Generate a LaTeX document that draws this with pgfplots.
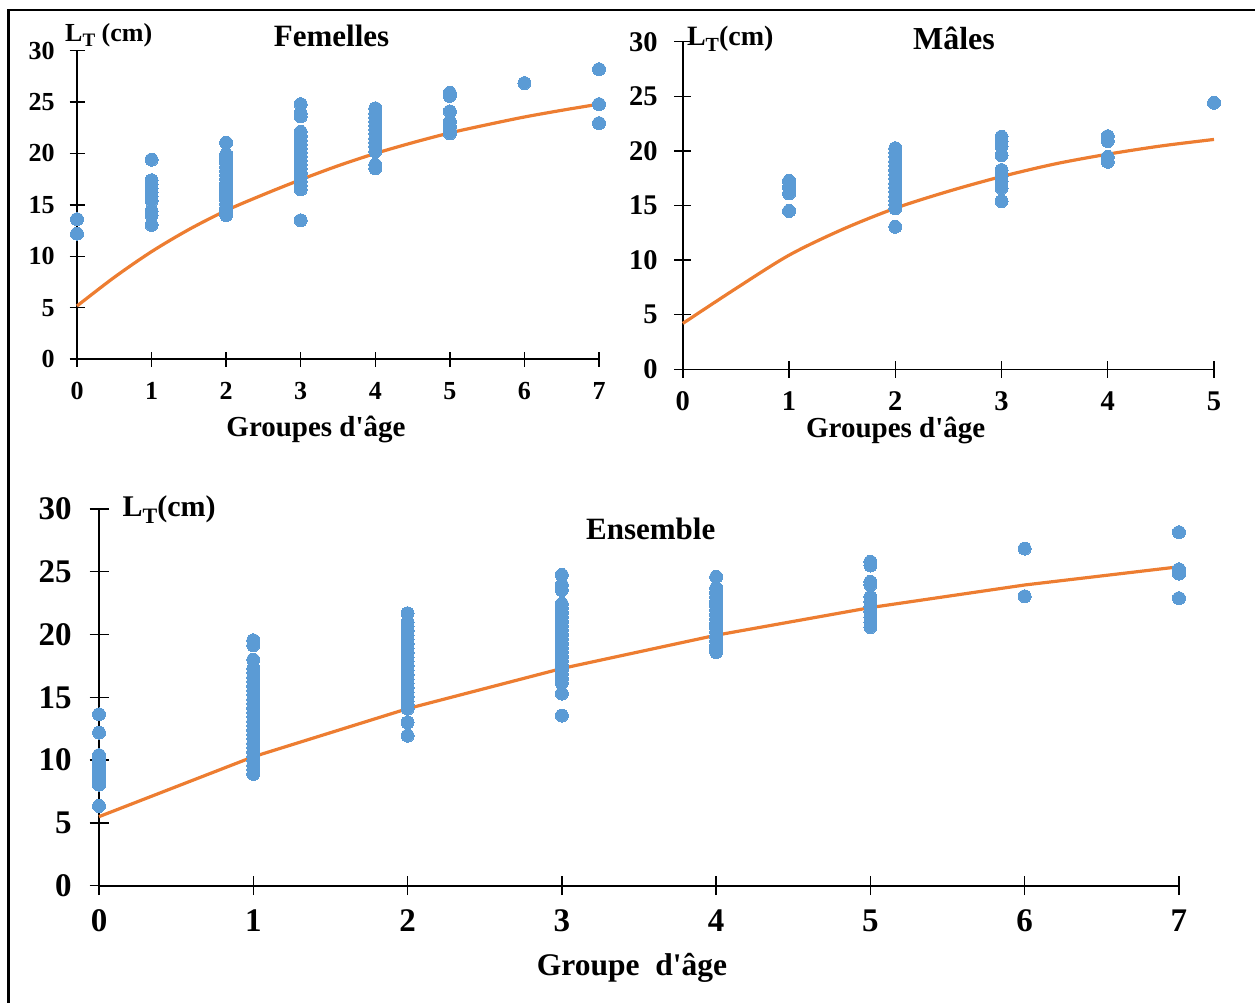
\documentclass[border=0pt]{standalone}
\usepackage{fontspec}
\setmainfont{Liberation Serif}[Ligatures=TeXOff]
\usepackage{pgfplots}
\pgfplotsset{compat=1.18}
\definecolor{dotblue}{HTML}{5B9BD5}
\definecolor{lineor}{HTML}{ED7D31}
\pgfplotsset{
  mystyle/.style={
    scale only axis, anchor=south west,
    axis x line=bottom, axis y line=left,
    axis line style={-, line width=1.6pt, black},
    xmin=0, ymin=0, ymax=30, clip=false,
    tick align=center,
    major tick style={line width=1.4pt, black},
    ytick={0,5,...,30},
    /pgf/number format/assume math mode=true,
  },
  dots/.style={only marks, color=dotblue, mark=*, mark size=6.5pt, mark options={draw=dotblue, fill=dotblue, line width=0pt}},
  fit/.style={lineor, line width=3.2pt, no marks},
}
\begin{document}
\begin{tikzpicture}
\useasboundingbox (0pt,0pt) rectangle (1255pt,-1002pt);
\draw[line width=2.5pt] (8.7pt,-1020pt) -- (8.7pt,-10pt) -- (1270pt,-10pt);

% ---------------- Femelles ----------------
\begin{axis}[mystyle, at={(77pt,-359pt)}, width=522pt, height=308.3pt,
  xmax=7, xtick={0,...,7}, major tick length=15pt,
  ticklabel style={font=\fontsize{26}{26}\selectfont\bfseries},
  yticklabel style={anchor=east, inner sep=0pt, xshift=-14.7pt},
  xticklabel style={anchor=base, inner sep=0pt, yshift=-33pt}]
\addplot[dots] coordinates {
(0,13.6)(0,12.2)
(1,19.4)(1,17.4)(1,17.0)(1,16.6)(1,16.2)(1,15.8)(1,15.4)(1,14.4)(1,14.0)(1,13.05)
(2,21.05)(2,19.9)(2,19.5)(2,19.1)(2,18.7)(2,18.3)(2,17.9)(2,17.5)(2,17.1)(2,16.7)(2,16.3)(2,15.9)(2,15.5)(2,15.1)(2,14.7)(2,14.35)(2,14.0)
(3,24.8)(3,23.9)(3,23.6)(3,22.1)(3,21.7)(3,21.3)(3,20.9)(3,20.5)(3,20.1)(3,19.7)(3,19.3)(3,18.9)(3,18.5)(3,18.1)(3,17.7)(3,17.3)(3,16.9)(3,16.5)(3,13.5)
(4,24.4)(4,23.9)(4,23.5)(4,23.1)(4,22.7)(4,22.3)(4,21.9)(4,21.5)(4,21.1)(4,20.7)(4,20.2)(4,18.9)(4,18.55)
(5,25.9)(5,25.6)(5,24.1)(5,23.1)(5,22.6)(5,22.2)(5,21.95)
(6,26.85)
(7,28.2)(7,24.8)(7,22.95)
};
\addplot[fit, smooth] coordinates {
(0,5.16)(0.5,7.95)(1,10.45)(1.5,12.6)(2,14.45)(2.5,16.0)(3,17.45)(3.5,18.8)(4,20.0)(4.5,21.05)(5,22.0)(5.5,22.8)(6,23.55)(6.5,24.2)(7,24.8)
};
\end{axis}

% ---------------- Males ----------------
\begin{axis}[mystyle, at={(682.8pt,-369.3pt)}, width=531.2pt, height=327.6pt,
  xmax=5, xtick={0,...,5}, major tick length=17pt,
  ticklabel style={font=\fontsize{28.5}{28.5}\selectfont\bfseries},
  yticklabel style={anchor=east, inner sep=0pt, xshift=-16.6pt},
  xticklabel style={anchor=base, inner sep=0pt, yshift=-32.4pt}]
\addplot[dots] coordinates {
(1,17.25)(1,16.7)(1,16.1)(1,14.5)
(2,20.25)(2,19.85)(2,19.45)(2,19.05)(2,18.65)(2,18.25)(2,17.85)(2,17.45)(2,17.05)(2,16.65)(2,16.25)(2,15.85)(2,15.45)(2,15.05)(2,14.75)(2,13.05)
(3,21.3)(3,20.85)(3,20.4)(3,19.6)(3,18.25)(3,17.65)(3,17.2)(3,16.6)(3,15.4)
(4,21.35)(4,20.9)(4,19.45)(4,19.0)
(5,24.4)
};
\addplot[fit, smooth] coordinates {
(0,4.2)(0.5,7.4)(1,10.45)(1.5,12.8)(2,14.75)(2.5,16.3)(3,17.65)(3.5,18.8)(4,19.7)(4.5,20.45)(5,21.05)
};
\end{axis}

% ---------------- Ensemble ----------------
\begin{axis}[mystyle, at={(99pt,-885.7pt)}, width=1080pt, height=376.7pt,
  xmax=7, xtick={0,...,7}, major tick length=19pt,
  ticklabel style={font=\fontsize{33}{33}\selectfont\bfseries},
  yticklabel style={anchor=east, inner sep=0pt, xshift=-17.6pt},
  xticklabel style={anchor=base, inner sep=0pt, yshift=-36.3pt}]
\addplot[dots] coordinates {
(0,13.65)(0,12.2)(0,10.4)(0,10.0)(0,9.6)(0,9.2)(0,8.8)(0,8.4)(0,8.05)(0,6.35)
(1,19.55)(1,19.15)(1,18.0)(1,17.3)(1,16.95)(1,16.6)(1,16.25)(1,15.9)(1,15.55)(1,15.2)(1,14.85)(1,14.5)(1,14.15)(1,13.8)(1,13.45)(1,13.1)(1,12.75)(1,12.4)(1,12.05)(1,11.7)(1,11.35)(1,11.0)(1,10.65)(1,10.3)(1,9.95)(1,9.6)(1,9.25)(1,8.9)
(2,21.7)(2,21.0)(2,20.65)(2,20.3)(2,19.95)(2,19.6)(2,19.25)(2,18.9)(2,18.55)(2,18.2)(2,17.85)(2,17.5)(2,17.15)(2,16.8)(2,16.45)(2,16.1)(2,15.75)(2,15.4)(2,15.05)(2,14.7)(2,14.4)(2,14.1)(2,13.0)(2,11.95)
(3,24.75)(3,23.95)(3,23.55)(3,22.45)(3,22.1)(3,21.75)(3,21.4)(3,21.05)(3,20.7)(3,20.35)(3,20.0)(3,19.65)(3,19.3)(3,18.95)(3,18.6)(3,18.25)(3,17.9)(3,17.55)(3,17.2)(3,16.85)(3,16.5)(3,16.15)(3,15.3)(3,13.55)
(4,24.6)(4,23.7)(4,23.35)(4,23.0)(4,22.65)(4,22.3)(4,21.95)(4,21.6)(4,21.25)(4,20.9)(4,20.55)(4,20.2)(4,19.85)(4,19.5)(4,19.15)(4,18.8)(4,18.6)
(5,25.8)(5,25.5)(5,24.2)(5,23.95)(5,23.0)(5,22.6)(5,22.2)(5,21.8)(5,21.4)(5,21.0)(5,20.6)
(6,26.85)(6,23.05)
(7,28.15)(7,25.2)(7,24.85)(7,22.9)
};
\addplot[fit] coordinates {
(0,5.5)(1,10.27)(2,14.1)(3,17.3)(4,19.95)(5,22.15)(6,23.95)(7,25.4)
};
\end{axis}

% ---------------- texts ----------------
\node[anchor=base west, inner sep=0pt] at (65pt,-41pt) {\fontsize{26}{26}\selectfont\bfseries L\raisebox{-5.5pt}{\fontsize{19}{19}\selectfont T} (cm)};
\node[anchor=base, inner sep=0pt] at (331.5pt,-46.7pt) {\fontsize{31}{31}\selectfont\bfseries Femelles};
\node[anchor=base, inner sep=0pt] at (316pt,-436.7pt) {\fontsize{29}{29}\selectfont\bfseries Groupes d'âge};

\node[anchor=base west, inner sep=0pt] at (686.8pt,-45pt) {\fontsize{28}{28}\selectfont\bfseries L\raisebox{-6pt}{\fontsize{20}{20}\selectfont T}(cm)};
\node[anchor=base, inner sep=0pt] at (954pt,-49.3pt) {\fontsize{32}{32}\selectfont\bfseries Mâles};
\node[anchor=base, inner sep=0pt] at (895.7pt,-437pt) {\fontsize{29}{29}\selectfont\bfseries Groupes d'âge};

\node[anchor=base west, inner sep=0pt] at (122.4pt,-516.8pt) {\fontsize{30}{30}\selectfont\bfseries L\raisebox{-7pt}{\fontsize{22}{22}\selectfont T}(cm)};
\node[anchor=base, inner sep=0pt] at (650.7pt,-539.6pt) {\fontsize{31}{31}\selectfont\bfseries Ensemble};
\node[anchor=base, inner sep=0pt] at (632pt,-975.6pt) {\fontsize{31.5}{31.5}\selectfont\bfseries Groupe\ \ d'âge};
\end{tikzpicture}
\end{document}
